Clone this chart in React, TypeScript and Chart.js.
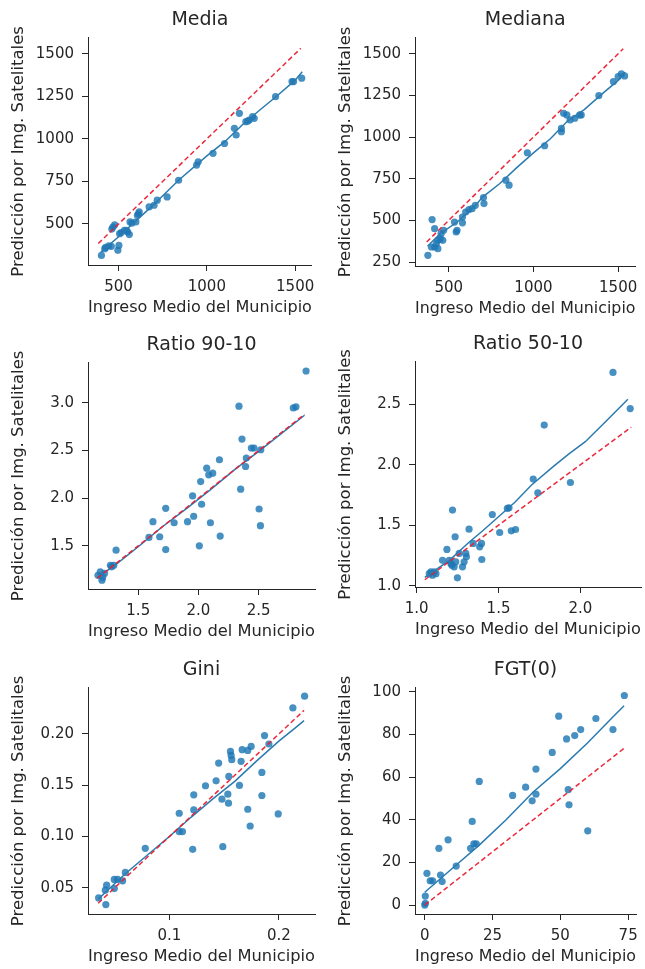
import React, { useEffect, useRef } from "react";
import { Chart, registerables } from "chart.js";

Chart.register(...registerables);

const FONT = "'DejaVu Sans', sans-serif";
const TEXT = "#262626";
const POINT = "rgba(31,119,180,0.82)";
const LINE = "#2b7bb0";
const RED = "rgba(235,30,50,0.95)";
const X_TITLE = "Ingreso Medio del Municipio";
const Y_TITLE = "Predicción por Img. Satelitales";

// ---------- Media ----------
const mediaX = [403, 422, 427, 445, 459, 462, 468, 478, 496, 502, 506, 515, 533, 545, 552, 561, 565, 575, 598, 607, 612, 617, 673, 701, 719, 775, 840, 942, 951, 1035, 1100, 1156, 1166, 1184, 1221, 1232, 1240, 1259, 1268, 1389, 1482, 1491, 1537];
const mediaY = [315, 355, 362, 372, 369, 470, 482, 495, 345, 374, 443, 450, 463, 462, 453, 438, 512, 505, 512, 551, 560, 571, 600, 610, 640, 659, 757, 846, 865, 915, 973, 1062, 1023, 1150, 1101, 1105, 1111, 1131, 1121, 1248, 1337, 1337, 1357];
const mediaLineX = [400, 500, 600, 700, 840, 1000, 1100, 1200, 1300, 1400, 1500, 1540];
const mediaLineY = [335, 425, 520, 615, 757, 900, 982, 1082, 1170, 1255, 1345, 1395];
const mediaRefX = [385, 1532];
const mediaXTicks = [500, 1000, 1500];
const mediaXLabels = ["500", "1000", "1500"];
const mediaYTicks = [500, 750, 1000, 1250, 1500];
const mediaYLabels = ["500", "750", "1000", "1250", "1500"];

// ---------- Mediana ----------
const medianaX = [377, 398, 402, 417, 417, 427, 436, 436, 450, 455, 465, 470, 534, 544, 549, 581, 581, 600, 619, 638, 657, 705, 708, 837, 856, 964, 1066, 1165, 1165, 1178, 1197, 1216, 1244, 1273, 1282, 1386, 1472, 1500, 1519, 1538];
const medianaY = [290, 340, 505, 340, 450, 360, 330, 380, 390, 420, 380, 440, 490, 430, 440, 485, 520, 550, 565, 570, 590, 637, 601, 741, 711, 906, 948, 1032, 1052, 1143, 1133, 1103, 1113, 1133, 1133, 1249, 1333, 1363, 1379, 1367];
const medianaLineX = [375, 450, 550, 650, 700, 800, 900, 1000, 1100, 1200, 1300, 1400, 1500, 1540];
const medianaLineY = [345, 420, 490, 580, 640, 720, 815, 905, 990, 1095, 1165, 1255, 1340, 1390];
const medianaRefX = [370, 1530];
const medianaXTicks = [500, 1000, 1500];
const medianaXLabels = ["500", "1000", "1500"];
const medianaYTicks = [250, 500, 750, 1000, 1250, 1500];
const medianaYLabels = ["250", "500", "750", "1000", "1250", "1500"];

// ---------- Ratio 90-10 ----------
const r9010X = [1.166, 1.185, 1.199, 1.22, 1.205, 1.269, 1.28, 1.297, 1.316, 1.589, 1.622, 1.678, 1.728, 1.728, 1.798, 1.909, 1.951, 1.96, 2.007, 2.018, 2.026, 2.068, 2.085, 2.099, 2.118, 2.174, 2.18, 2.336, 2.35, 2.361, 2.391, 2.397, 2.439, 2.461, 2.503, 2.514, 2.517, 2.787, 2.809, 2.893];
const r9010Y = [1.19, 1.226, 1.14, 1.21, 1.17, 1.296, 1.28, 1.296, 1.454, 1.588, 1.753, 1.595, 1.893, 1.461, 1.742, 1.753, 2.023, 1.81, 1.5, 2.174, 1.936, 2.315, 2.245, 1.742, 2.262, 2.403, 1.602, 2.965, 2.094, 2.62, 2.332, 2.42, 2.526, 2.526, 1.886, 1.711, 2.508, 2.947, 2.958, 3.334];
const r9010LineX = [1.16, 1.3, 1.5, 1.7, 1.9, 2.1, 2.3, 2.5, 2.7, 2.88];
const r9010LineY = [1.17, 1.29, 1.49, 1.7, 1.89, 2.09, 2.3, 2.49, 2.69, 2.87];
const r9010RefX = [1.16, 2.88];
const r9010XTicks = [1.5, 2.0, 2.5];
const r9010XLabels = ["1.5", "2.0", "2.5"];
const r9010YTicks = [1.5, 2.0, 2.5, 3.0];
const r9010YLabels = ["1.5", "2.0", "2.5", "3.0"];

// ---------- Ratio 50-10 ----------
const r5010X = [1.077, 1.087, 1.108, 1.097, 1.118, 1.158, 1.185, 1.199, 1.209, 1.219, 1.215, 1.229, 1.235, 1.239, 1.249, 1.26, 1.28, 1.29, 1.3, 1.304, 1.32, 1.345, 1.385, 1.396, 1.398, 1.462, 1.507, 1.554, 1.564, 1.578, 1.604, 1.712, 1.74, 1.779, 1.939, 2.199, 2.304];
const r5010Y = [1.1, 1.116, 1.116, 1.088, 1.1, 1.21, 1.3, 1.21, 1.184, 1.625, 1.17, 1.157, 1.405, 1.198, 1.066, 1.267, 1.157, 1.198, 1.267, 1.24, 1.468, 1.35, 1.322, 1.35, 1.217, 1.589, 1.44, 1.639, 1.644, 1.454, 1.465, 1.881, 1.768, 2.327, 1.853, 2.762, 2.464];
const r5010LineX = [1.05, 1.2, 1.32, 1.4, 1.5, 1.6, 1.7, 1.83, 1.93, 2.03, 2.15, 2.29];
const r5010LineY = [1.07, 1.21, 1.36, 1.45, 1.57, 1.69, 1.83, 1.98, 2.09, 2.19, 2.35, 2.54];
const r5010RefX = [1.05, 2.31];
const r5010XTicks = [1.0, 1.5, 2.0];
const r5010XLabels = ["1.0", "1.5", "2.0"];
const r5010YTicks = [1.0, 1.5, 2.0, 2.5];
const r5010YLabels = ["1.0", "1.5", "2.0", "2.5"];

// ---------- Gini ----------
const giniX = [0.0354, 0.042, 0.0427, 0.0415, 0.0497, 0.0497, 0.0527, 0.0573, 0.0598, 0.078, 0.109, 0.109, 0.112, 0.1213, 0.1223, 0.1223, 0.133, 0.1427, 0.145, 0.148, 0.1488, 0.1534, 0.154, 0.1543, 0.1558, 0.1564, 0.157, 0.164, 0.1655, 0.1665, 0.1716, 0.1716, 0.1738, 0.1747, 0.1845, 0.1845, 0.1869, 0.1909, 0.1994, 0.2128, 0.2235];
const giniY = [0.0402, 0.0337, 0.0526, 0.0477, 0.0493, 0.0582, 0.0582, 0.0568, 0.065, 0.0885, 0.1227, 0.1048, 0.1048, 0.0875, 0.1407, 0.126, 0.1495, 0.1543, 0.1716, 0.1364, 0.0901, 0.1413, 0.1325, 0.1586, 0.183, 0.1791, 0.1749, 0.1498, 0.1733, 0.1847, 0.184, 0.1266, 0.1103, 0.1879, 0.1625, 0.14, 0.1984, 0.1902, 0.1221, 0.2254, 0.2368];
const giniLineX = [0.035, 0.06, 0.08, 0.1, 0.12, 0.14, 0.16, 0.18, 0.2, 0.215, 0.223];
const giniLineY = [0.039, 0.064, 0.082, 0.1, 0.119, 0.137, 0.154, 0.174, 0.193, 0.206, 0.213];
const giniRefX = [0.035, 0.223];
const giniXTicks = [0.1, 0.2];
const giniXLabels = ["0.1", "0.2"];
const giniYTicks = [0.05, 0.1, 0.15, 0.2];
const giniYLabels = ["0.05", "0.10", "0.15", "0.20"];

// ---------- FGT(0) ----------
const fgtX = [0, 0.2, 0.2, 0.8, 2.0, 2.9, 5.2, 5.8, 6.4, 8.6, 11.6, 16.9, 17.5, 18.1, 19.0, 20.1, 32.4, 37.2, 39.6, 41.0, 41.0, 47.0, 49.4, 52.3, 52.9, 53.2, 55.3, 57.5, 60.1, 63.1, 69.4, 73.6];
const fgtY = [0, 0.8, 4.2, 14.9, 11.4, 11.4, 26.6, 14.1, 11.0, 30.6, 18.3, 26.6, 39.2, 28.7, 28.7, 58.0, 51.4, 55.3, 48.9, 52.0, 63.8, 71.6, 88.6, 77.9, 54.1, 47.0, 79.5, 82.3, 34.8, 87.5, 82.3, 98.3];
const fgtLineX = [0, 10, 20, 30, 40, 50, 60, 70, 73.5];
const fgtLineY = [6, 17, 28, 40, 53, 64, 76, 89, 93.5];
const fgtRefX = [0, 73.5];
const fgtXTicks = [0, 25, 50, 75];
const fgtXLabels = ["0", "25", "50", "75"];
const fgtYTicks = [0, 20, 40, 60, 80, 100];
const fgtYLabels = ["0", "20", "40", "60", "80", "100"];

type PanelCfg = {
  title: string;
  left: number; top: number; width: number; height: number; padRight: number;
  xMin: number; xMax: number; yMin: number; yMax: number;
  px: number[]; py: number[]; lx: number[]; ly: number[]; refX: number[];
  xTicks: number[]; xLabels: string[]; yTicks: number[]; yLabels: string[];
};

const Y_AXIS_W = 88;
const TITLE_H = 38;
const X_AXIS_H = 57;

function rect(areaLeft: number, areaTop: number, areaRight: number, areaBottom: number, canvasRight: number) {
  const left = areaLeft - Y_AXIS_W;
  return {
    left,
    top: areaTop - TITLE_H,
    width: canvasRight - left,
    height: areaBottom - areaTop + TITLE_H + X_AXIS_H,
    padRight: canvasRight - areaRight,
  };
}

const panels: PanelCfg[] = [
  { title: "Media", ...rect(88, 38, 315, 265, 322), xMin: 327, xMax: 1595, yMin: 259, yMax: 1594,
    px: mediaX, py: mediaY, lx: mediaLineX, ly: mediaLineY, refX: mediaRefX,
    xTicks: mediaXTicks, xLabels: mediaXLabels, yTicks: mediaYTicks, yLabels: mediaYLabels },
  { title: "Mediana", ...rect(415, 38, 643, 266, 645), xMin: 301, xMax: 1602, yMin: 226, yMax: 1596,
    px: medianaX, py: medianaY, lx: medianaLineX, ly: medianaLineY, refX: medianaRefX,
    xTicks: medianaXTicks, xLabels: medianaXLabels, yTicks: medianaYTicks, yLabels: medianaYLabels },
  { title: "Ratio 90-10", ...rect(88, 363, 315, 589, 322), xMin: 1.083, xMax: 2.967, yMin: 1.047, yMax: 3.42,
    px: r9010X, py: r9010Y, lx: r9010LineX, ly: r9010LineY, refX: r9010RefX,
    xTicks: r9010XTicks, xLabels: r9010XLabels, yTicks: r9010YTicks, yLabels: r9010YLabels },
  { title: "Ratio 50-10", ...rect(415, 362, 643, 587, 645), xMin: 0.99, xMax: 2.37, yMin: 0.99, yMax: 2.85,
    px: r5010X, py: r5010Y, lx: r5010LineX, ly: r5010LineY, refX: r5010RefX,
    xTicks: r5010XTicks, xLabels: r5010XLabels, yTicks: r5010YTicks, yLabels: r5010YLabels },
  { title: "Gini", ...rect(88, 688, 315, 914, 322), xMin: 0.0257, xMax: 0.233, yMin: 0.0245, yMax: 0.245,
    px: giniX, py: giniY, lx: giniLineX, ly: giniLineY, refX: giniRefX,
    xTicks: giniXTicks, xLabels: giniXLabels, yTicks: giniYTicks, yLabels: giniYLabels },
  { title: "FGT(0)", ...rect(415, 688, 643, 914, 645), xMin: -3.6, xMax: 77.9, yMin: -4.2, yMax: 101.9,
    px: fgtX, py: fgtY, lx: fgtLineX, ly: fgtLineY, refX: fgtRefX,
    xTicks: fgtXTicks, xLabels: fgtXLabels, yTicks: fgtYTicks, yLabels: fgtYLabels },
];

function Panel({ cfg }: { cfg: PanelCfg }) {
  const ref = useRef<HTMLCanvasElement>(null);
  useEffect(() => {
    const canvas = ref.current;
    if (!canvas) return;
    const scatter = cfg.px.map((x, i) => ({ x, y: cfg.py[i] }));
    const line = cfg.lx.map((x, i) => ({ x, y: cfg.ly[i] }));
    const refLine = cfg.refX.map((x) => ({ x, y: x }));
    const tickFont = { family: FONT, size: 15 };
    const titleFont = { family: FONT, size: 16.5 };
    const chart = new Chart(canvas, {
      type: "scatter",
      data: {
        datasets: [
          { data: refLine, showLine: true, borderColor: RED, borderWidth: 1.5, borderDash: [5, 3], pointRadius: 0, fill: false },
          { data: line, showLine: true, borderColor: LINE, borderWidth: 1.5, pointRadius: 0, fill: false },
          { data: scatter, showLine: false, pointRadius: 3.6, pointBackgroundColor: POINT, pointBorderWidth: 0, borderWidth: 0 },
        ],
      } as any,
      options: {
        animation: false,
        responsive: false,
        devicePixelRatio: 1,
        events: [],
        layout: { padding: { left: 0, top: 0, bottom: 0, right: cfg.padRight } },
        plugins: {
          legend: { display: false },
          tooltip: { enabled: false },
          title: {
            display: true,
            fullSize: false,
            text: cfg.title,
            color: TEXT,
            font: { family: FONT, size: 19, weight: "normal" },
            padding: { top: 9, bottom: 6 },
          },
        },
        scales: {
          x: {
            type: "linear",
            min: cfg.xMin,
            max: cfg.xMax,
            afterBuildTicks: (s: any) => { s.ticks = cfg.xTicks.map((v) => ({ value: v })); },
            afterFit: (s: any) => { s.height = X_AXIS_H; },
            ticks: {
              autoSkip: false, maxRotation: 0, padding: 7, color: TEXT, font: tickFont,
              callback: (v: any) => { const i = cfg.xTicks.indexOf(Number(v)); return i >= 0 ? cfg.xLabels[i] : ""; },
            },
            grid: { display: true, drawOnChartArea: false, drawTicks: true, tickLength: 6, color: TEXT, tickColor: TEXT },
            border: { display: true, color: TEXT, width: 1 },
            title: { display: true, text: X_TITLE, color: TEXT, font: titleFont, padding: { top: 0, bottom: 4 } },
          },
          y: {
            type: "linear",
            min: cfg.yMin,
            max: cfg.yMax,
            afterBuildTicks: (s: any) => { s.ticks = cfg.yTicks.map((v) => ({ value: v })); },
            afterFit: (s: any) => { s.width = Y_AXIS_W; },
            ticks: {
              autoSkip: false, padding: 8, color: TEXT, font: tickFont,
              callback: (v: any) => { const i = cfg.yTicks.indexOf(Number(v)); return i >= 0 ? cfg.yLabels[i] : ""; },
            },
            grid: { display: true, drawOnChartArea: false, drawTicks: true, tickLength: 6, color: TEXT, tickColor: TEXT },
            border: { display: true, color: TEXT, width: 1 },
            title: { display: true, text: Y_TITLE, color: TEXT, font: titleFont, padding: { top: 9, bottom: 0 } },
          },
        },
      } as any,
    });
    return () => chart.destroy();
  }, [cfg]);
  return (
    <canvas
      ref={ref}
      width={cfg.width}
      height={cfg.height}
      style={{ position: "absolute", left: cfg.left, top: cfg.top, width: cfg.width, height: cfg.height }}
    />
  );
}

export default function App() {
  return (
    <div style={{ position: "absolute", left: 0, top: 0, width: 645, height: 969, overflow: "hidden", background: "#ffffff" }}>
      {panels.map((p) => (
        <Panel key={p.title} cfg={p} />
      ))}
    </div>
  );
}
